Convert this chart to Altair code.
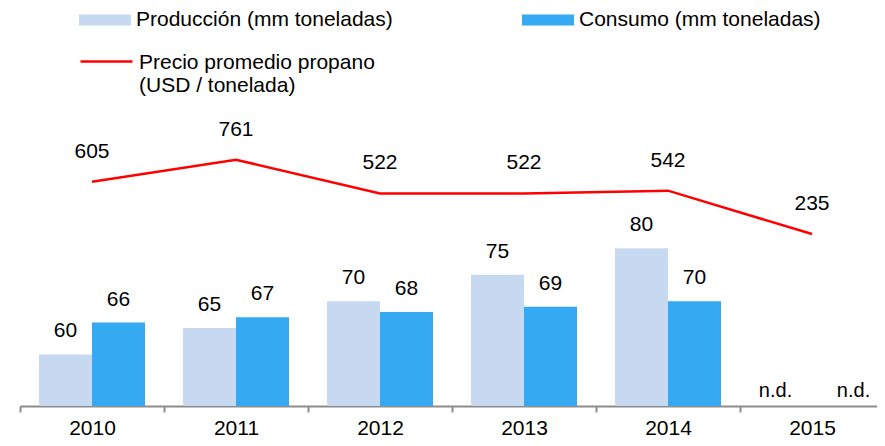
import altair as alt
import pandas as pd

years = ["2010", "2011", "2012", "2013", "2014", "2015"]
produccion = [60, 65, 70, 75, 80, None]
consumo = [66, 67, 68, 69, 70, None]
precio = [605, 761, 522, 522, 542, 235]

s_prod = "Producción (mm toneladas)"
s_cons = "Consumo (mm toneladas)"
s_precio = "Precio promedio propano (USD / tonelada)"

rows = []
for y, p, c in zip(years, produccion, consumo):
    rows.append({"year": y, "serie": s_prod, "value": p})
    rows.append({"year": y, "serie": s_cons, "value": c})
bars_df = pd.DataFrame(rows)
bars_df["label"] = bars_df["value"].apply(lambda v: "n.d." if pd.isna(v) else str(int(v)))

line_df = pd.DataFrame({"year": years, "precio": precio, "serie": [s_precio] * len(years)})

FONT = "Liberation Sans"
FS = 21
BAR_DOM = [50.3, 106.4]
LINE_DOM = [-982, 1127]
PLOT_H = 298

x_enc = alt.X("year:N", sort=years, title=None,
              scale=alt.Scale(paddingInner=0, paddingOuter=0, range=[0, 864]),
              axis=alt.Axis(labelAngle=0, tickBand="extent", domainColor="#8c8c8c",
                            domainWidth=2, tickColor="#8c8c8c", tickWidth=2, tickSize=6,
                            labelPadding=5, labelFont=FONT, labelFontSize=FS,
                            labelColor="#000000", grid=False))
xo_enc = alt.XOffset("serie:N", sort=[s_prod, s_cons],
                     scale=alt.Scale(paddingInner=0, paddingOuter=0.3585))

bars = alt.Chart(bars_df).mark_bar(clip=True).encode(
    x=x_enc,
    xOffset=xo_enc,
    y=alt.Y("value:Q", axis=None, scale=alt.Scale(domain=BAR_DOM, zero=False, nice=False)),
    y2=alt.datum(BAR_DOM[0]),
    color=alt.Color("serie:N", sort=[s_prod, s_cons],
                    scale=alt.Scale(domain=[s_prod, s_cons], range=["#C6D9F0", "#35A9F2"]),
                    legend=alt.Legend(title=None, orient="none", legendX=59, legendY=-114,
                                      direction="horizontal", columns=2, columnPadding=129,
                                      padding=0, symbolType="M-1,-0.21H1V0.21H-1Z",
                                      symbolSize=2704, symbolStrokeWidth=0, symbolOpacity=1,
                                      labelFont=FONT, labelFontSize=FS, labelColor="#000000",
                                      labelOffset=5, labelLimit=400)),
)

bar_labels = alt.Chart(bars_df).transform_filter("isValid(datum.value)").mark_text(
    font=FONT, fontSize=FS, color="#000000", baseline="middle", dy=-23
).encode(
    x=alt.X("year:N", sort=years),
    xOffset=xo_enc,
    y=alt.Y("value:Q", axis=None, scale=alt.Scale(domain=BAR_DOM, zero=False, nice=False)),
    text="label:N",
)

nd_prod = alt.Chart(bars_df).transform_filter(
    f"!isValid(datum.value) && datum.serie == '{s_prod}'").mark_text(
    font=FONT, fontSize=20, color="#000000", baseline="middle", dy=-15, dx=-10
).encode(
    x=alt.X("year:N", sort=years),
    xOffset=xo_enc,
    y=alt.value(PLOT_H),
    text="label:N",
)
nd_cons = alt.Chart(bars_df).transform_filter(
    f"!isValid(datum.value) && datum.serie == '{s_cons}'").mark_text(
    font=FONT, fontSize=20, color="#000000", baseline="middle", dy=-15, dx=15
).encode(
    x=alt.X("year:N", sort=years),
    xOffset=xo_enc,
    y=alt.value(PLOT_H),
    text="label:N",
)

line = alt.Chart(line_df).mark_line(strokeWidth=2.5).encode(
    x=alt.X("year:N", sort=years),
    y=alt.Y("precio:Q", axis=None, scale=alt.Scale(domain=LINE_DOM, zero=False, nice=False)),
    stroke=alt.Stroke("serie:N",
                      scale=alt.Scale(domain=[s_precio], range=["#FF0000"]),
                      legend=alt.Legend(title=None, orient="none", legendX=59, legendY=-73,
                                        padding=0, symbolType="M-1,-0.04H1",
                                        symbolSize=2704, symbolStrokeWidth=2.5,
                                        labelFont=FONT, labelFontSize=FS, labelColor="#000000",
                                        labelOffset=5, labelLimit=400,
                                        labelExpr="split(replace(datum.label, ' (', '|('), '|')")),
)

line_labels = alt.Chart(line_df).mark_text(
    font=FONT, fontSize=FS, color="#000000", baseline="middle", dy=-30
).encode(
    x=alt.X("year:N", sort=years),
    y=alt.Y("precio:Q", axis=None, scale=alt.Scale(domain=LINE_DOM, zero=False, nice=False)),
    text=alt.Text("precio:Q", format="d"),
)

chart = alt.layer(bars, bar_labels, nd_prod, nd_cons, line, line_labels).resolve_scale(
    y="independent"
).properties(
    width=857, height=PLOT_H,
    autosize=alt.AutoSizeParams(type="none"),
    padding={"left": 12, "top": 100, "right": 0, "bottom": 32},
).configure_view(stroke=None)

chart.save("out.html", embed_options={"renderer": "svg", "actions": False})
